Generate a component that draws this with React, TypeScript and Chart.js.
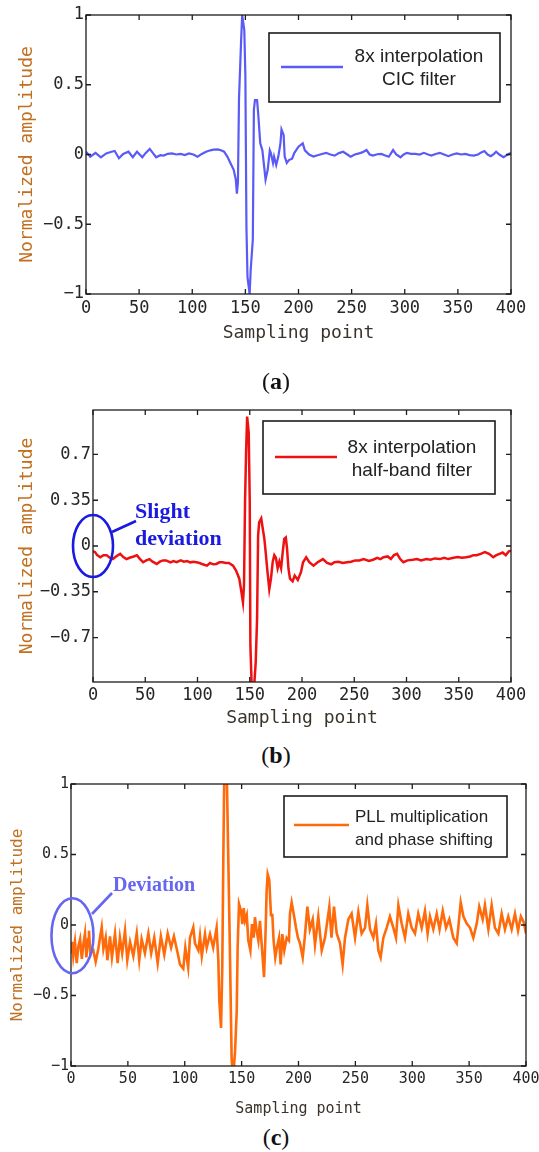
import React, { useEffect, useRef } from "react";
import { Chart, registerables } from "chart.js";

Chart.register(...registerables);

// ---------- shared axis ticks ----------
const sampleTicks = [0, 50, 100, 150, 200, 250, 300, 350, 400];
const ampTicksA = [-1, -0.5, 0, 0.5, 1];
const ampTicksB = [-0.7, -0.35, 0, 0.35, 0.7];
const ampTicksC = [-1, -0.5, 0, 0.5, 1];

// ---------- (a) 8x interpolation CIC filter ----------
const cicX = [0,4,9,14,19,24,27,31,35,40,
  44,48,53,56,60,63,66,70,73,77,
  81,85,89,93,97,101,105,109,113,117,
  120,124,127,130,133,136,139,141,142,143,
  144,146,147,149,150,151,152,154,155,157,
  158,159,161,162,164,166,168,169,171,173,
  174,176,177,179,181,183,184,186,187,189,
  191,194,196,200,204,206,210,214,218,222,
  226,230,234,238,242,246,249,253,257,260,
  264,267,270,274,278,281,285,289,292,296,
  299,302,306,310,314,318,322,325,329,333,
  337,341,345,349,353,357,361,365,369,372,
  375,378,381,384,386,389,393,396,400];
const cicY = [0.02,-0.016,0.012,-0.02,0.008,0.02,0.025,-0.027,0.004,0.02,
  -0.02,0.02,-0.02,0.01,0.04,0.01,-0.02,-0.005,-0.008,0.005,
  0.008,0,0.004,-0.004,0.008,0,-0.016,0.004,0.02,0.03,
  0.035,0.037,0.03,0.02,-0.015,-0.063,-0.11,-0.18,-0.28,-0.2,
  0.4,0.82,1.0,0.89,0.56,-0.52,-0.88,-1.0,-0.83,-0.61,
  0.32,0.39,0.39,0.3,0.08,0.03,-0.11,-0.18,-0.11,0.03,
  0.01,-0.06,-0.015,-0.075,-0.015,0.08,0.18,0.14,-0.015,-0.06,
  -0.04,-0.03,0.01,0.056,0.08,0.03,0,-0.015,-0.005,0.004,
  0.012,0,-0.008,0.01,0.02,0,-0.016,0,0.008,0.015,
  0.032,0,-0.008,0.002,0.004,-0.005,-0.016,0.032,0,-0.02,
  0,0.012,0.005,0.004,0,0.012,0,-0.008,0.004,0.012,
  0,-0.012,0,0.008,0,0.004,-0.004,-0.008,0,0.015,
  0.025,0,-0.012,0.005,0.02,0,-0.02,-0.005,0.012];
const cicLegend = ["8x interpolation", "CIC filter"];

// ---------- (b) 8x interpolation half-band filter ----------
const hbX = [0,2,4,7,10,13,16,19,22,26,
  29,32,35,39,42,45,48,51,54,57,
  61,64,67,70,74,77,80,84,87,90,
  93,96,99,102,105,109,112,115,118,121,
  124,127,130,134,137,140,142,143.5,144.5,145.5,
  146.5,147.5,149,150,150.6,152,154,155.7,157,158,
  159,161,162.5,164,165.5,167,168.7,170.3,172,173.5,
  175,176.7,178.3,180,181.5,183,184.5,185.7,187,188.5,
  191,193,196,199,201,204,207,211,215,218,
  220,224,228,231,235,239,243,247,251,255,
  259,264,268,272,275,278,282,285,288,291,
  294,297,301,306,310,314,319,323,327,332,
  336,340,345,349,353,357,361,364,367,371,
  375,379,383,386,389,392,395,398,400];
const hbY = [-0.04,-0.047,-0.07,-0.086,-0.07,-0.07,-0.09,-0.1,-0.08,-0.06,
  -0.085,-0.1,-0.09,-0.08,-0.07,-0.1,-0.124,-0.11,-0.1,-0.12,
  -0.137,-0.12,-0.11,-0.11,-0.125,-0.115,-0.124,-0.11,-0.12,-0.115,
  -0.125,-0.12,-0.124,-0.13,-0.14,-0.15,-0.13,-0.14,-0.137,-0.125,
  -0.124,-0.13,-0.13,-0.15,-0.19,-0.25,-0.35,-0.43,-0.3,0.34,
  0.72,0.99,0.87,0.34,-0.76,-1.1,-1.1,-0.89,-0.56,0.08,
  0.18,0.21,0.13,0.055,-0.07,-0.2,-0.33,-0.25,-0.12,-0.07,
  -0.09,-0.17,-0.12,-0.17,-0.05,0.055,0.065,-0.02,-0.17,-0.25,
  -0.27,-0.226,-0.26,-0.2,-0.124,-0.086,-0.124,-0.15,-0.124,-0.11,
  -0.1,-0.13,-0.14,-0.124,-0.12,-0.13,-0.124,-0.12,-0.11,-0.11,
  -0.1,-0.115,-0.105,-0.09,-0.1,-0.086,-0.08,-0.1,-0.07,-0.06,
  -0.1,-0.124,-0.11,-0.105,-0.1,-0.11,-0.1,-0.105,-0.095,-0.1,
  -0.09,-0.1,-0.09,-0.085,-0.09,-0.086,-0.08,-0.07,-0.07,-0.06,
  -0.047,-0.06,-0.086,-0.07,-0.06,-0.05,-0.07,-0.04,-0.035];
const hbLegend = ["8x interpolation", "half-band filter"];

// ---------- (c) PLL multiplication and phase shifting ----------
const pllX = [0,1,2,3.5,5,6.5,8,9.5,11,12.3,
  13.5,15,15.8,17,19.6,21.7,24,25.5,27,28.5,
  30.5,32,34.3,36,38.7,41,43,45,47.5,49.5,
  51.9,54.8,57.8,60,62.1,65,68,70.5,73.2,76.2,
  79,82,85,88,90.5,93.8,95.8,98.7,100.5,103,
  104.6,107.5,109,112,113.4,115,117.8,119.3,122.2,125,
  128,129.5,130.4,131.9,133,133.9,134.8,136.9,138.3,139.8,
  141.2,142.4,144.2,145.7,146.5,147.7,149.5,150.6,151.8,153,
  154.5,155.9,157.7,159.1,160.6,161.7,163.2,164.7,166.1,168.2,
  169.7,170.9,172,172.9,174.3,175.8,177,178.1,179.6,181,
  182.9,184.3,185.8,187.5,189.6,191.6,192.5,194,196.3,197.8,
  199.5,201.3,203.7,205.5,207.8,210,212.5,214.5,217.4,220.4,
  223.3,227.1,229,231.2,233.6,236.5,238.8,240.9,243.8,246.7,
  249.7,252.6,255.5,258.5,260.5,262.9,265.8,268.1,270.2,272.2,
  274.6,277.5,280.4,283.4,285.7,287.8,290.7,293.6,296.5,299.5,
  302.4,305.3,308.3,311.2,313.5,315.6,318.5,321.5,324,326.8,
  329.7,332.6,336.1,339.1,342.6,345,347.9,350.8,353.7,356.7,
  358.9,361.9,363.9,366.9,369.8,372.7,375.7,378.6,381.5,384.4,
  387.4,390.3,393,395.5,398,400];
const pllY = [-0.2,-0.12,-0.22,-0.12,-0.27,-0.15,-0.1,-0.24,-0.13,-0.06,
  -0.23,-0.1,-0.04,-0.2,-0.18,-0.26,-0.17,-0.09,-0.016,-0.17,
  -0.09,-0.25,-0.08,-0.23,-0.06,-0.27,-0.09,-0.2,-0.04,-0.25,
  -0.12,-0.22,-0.06,-0.25,-0.1,-0.2,-0.06,-0.2,-0.09,-0.27,
  -0.08,-0.21,-0.06,-0.16,-0.08,-0.2,-0.28,-0.31,-0.16,-0.3,
  -0.09,-0.016,-0.13,-0.18,-0.08,-0.22,-0.065,-0.16,-0.065,-0.16,
  -0.02,-0.25,-0.54,-0.73,-0.3,0.46,1.1,1.1,0.46,-0.23,
  -0.94,-1.1,-0.9,-0.61,-0.16,0.15,0.1,0.006,0.12,0.03,
  0.07,-0.11,-0.18,0.006,-0.09,0.055,-0.04,-0.11,0.03,-0.2,
  -0.37,-0.09,0.245,0.36,0.32,0.07,0.07,-0.11,-0.23,-0.16,
  -0.09,-0.28,-0.065,-0.18,-0.09,-0.11,0.08,0.16,0.055,-0.02,
  -0.09,-0.13,-0.23,-0.09,0.13,-0.03,0.04,-0.14,0.06,-0.18,
  -0.09,0.13,-0.09,0.13,-0.06,-0.13,-0.28,-0.09,0.04,0.08,
  -0.09,0.09,-0.06,-0.02,0.14,-0.03,-0.09,0.01,-0.18,-0.23,
  -0.09,-0.02,0.06,-0.02,-0.09,0.14,0.01,-0.09,0.08,-0.02,
  -0.06,0.08,-0.02,0.1,-0.06,0.06,-0.03,0.08,-0.03,0.1,
  -0.02,0.04,-0.09,-0.13,0.16,0.06,0.01,-0.02,-0.09,0.01,
  0.13,0.04,0.14,-0.03,0.14,-0.02,-0.06,0.08,-0.03,0.06,
  -0.03,0.08,-0.04,0.06,0.02,-0.06];
const pllLegend = ["PLL multiplication", "and phase shifting"];

const xTitle = "Sampling point";
const yTitle = "Normalized amplitude";

const MONO = "'DejaVu Sans Mono', monospace";
const SANS = "'Liberation Sans', Arial, sans-serif";
const SERIF = "'Liberation Serif', 'Times New Roman', serif";

type Note = {
  cx: number; cy: number; rx: number; ry: number; // cx, cy in data units
  l0: [number, number]; l1: [number, number];
  lines: string[]; tx: number; tys: number[]; size: number; color: string;
};

type Panel = {
  top: number; height: number;
  padTop: number; padRight: number; yWidth: number; xHeight: number;
  xs: number[]; ys: number[]; yTicks: number[]; yMin: number; yMax: number;
  color: string; lw: number;
  tickSize: number; xTitleSize: number; yTitleSize: number;
  yTickPad: number; xTickPad: number; yTitlePad: number; xTitlePad: number;
  legendText: string[];
  legend: { x0: number; y0: number; x1: number; y1: number; lx0: number; lx1: number; ly: number; tx: number; tys: number[]; align: CanvasTextAlign; size: number };
  note?: Note;
};

const panels: Panel[] = [
  {
    top: 0, height: 346, padTop: 15, padRight: 28, yWidth: 86, xHeight: 52,
    xs: cicX, ys: cicY, yTicks: ampTicksA, yMin: -1, yMax: 1,
    color: "#5a5af6", lw: 2.2,
    tickSize: 17, xTitleSize: 18, yTitleSize: 18,
    yTickPad: 2, xTickPad: 4, yTitlePad: 16.7, xTitlePad: 2,
    legendText: cicLegend,
    legend: { x0: 269, y0: 33, x1: 500, y1: 102, lx0: 281, lx1: 343, ly: 67, tx: 419, tys: [57, 80], align: "center", size: 19 },
  },
  {
    top: 380, height: 351, padTop: 30, padRight: 28, yWidth: 93, xHeight: 49,
    xs: hbX, ys: hbY, yTicks: ampTicksB, yMin: -1.04, yMax: 1.04,
    color: "#ee1111", lw: 2.5,
    tickSize: 17, xTitleSize: 18, yTitleSize: 18,
    yTickPad: 2, xTickPad: 3, yTitlePad: 16.7, xTitlePad: 2,
    legendText: hbLegend,
    legend: { x0: 263, y0: 41, x1: 495, y1: 114, lx0: 275, lx1: 337, ly: 77, tx: 412, tys: [68, 91], align: "center", size: 19 },
    note: {
      cx: 0, cy: 0, rx: 20, ry: 31, l0: [112, 152], l1: [136, 141],
      lines: ["Slight", "deviation"], tx: 135, tys: [138, 165], size: 22, color: "#1a1ae0",
    },
  },
  {
    top: 770, height: 350, padTop: 14, padRight: 13, yWidth: 71, xHeight: 54,
    xs: pllX, ys: pllY, yTicks: ampTicksC, yMin: -1, yMax: 1,
    color: "#ff6a0a", lw: 2.6,
    tickSize: 15, xTitleSize: 15, yTitleSize: 16,
    yTickPad: 2, xTickPad: 4, yTitlePad: 8.5, xTitlePad: 2,
    legendText: pllLegend,
    legend: { x0: 284, y0: 26, x1: 507, y1: 87, lx0: 294, lx1: 349, ly: 55, tx: 355, tys: [47, 70], align: "left", size: 17 },
    note: {
      cx: 1.3, cy: -0.076, rx: 21, ry: 37.5, l0: [92, 144], l1: [112, 123],
      lines: ["Deviation"], tx: 113, tys: [121], size: 20, color: "#6666f0",
    },
  },
];

const fmt = (v: number) => (v < 0 ? "\u2212" + String(Math.abs(v)) : String(v));

function PanelChart({ p }: { p: Panel }) {
  const ref = useRef<HTMLCanvasElement>(null);
  useEffect(() => {
    const canvas = ref.current;
    if (!canvas) return;
    const frame = {
      id: "frame" + p.top,
      afterDatasetsDraw(chart: any) {
        const { ctx, chartArea } = chart;
        const { left, right, top, bottom } = chartArea;
        const xs = chart.scales.x, ys = chart.scales.y;
        ctx.save();
        ctx.strokeStyle = "#1c1c1c";
        ctx.lineWidth = 1.3;
        ctx.strokeRect(left, top, right - left, bottom - top);
        ctx.beginPath();
        for (const v of sampleTicks) {
          const px = xs.getPixelForValue(v);
          ctx.moveTo(px, bottom); ctx.lineTo(px, bottom - 5);
          ctx.moveTo(px, top); ctx.lineTo(px, top + 5);
        }
        for (const v of p.yTicks) {
          const py = ys.getPixelForValue(v);
          ctx.moveTo(left, py); ctx.lineTo(left + 5, py);
          ctx.moveTo(right, py); ctx.lineTo(right - 5, py);
        }
        ctx.stroke();
        // legend box
        const L = p.legend;
        ctx.fillStyle = "#ffffff";
        ctx.fillRect(L.x0, L.y0, L.x1 - L.x0, L.y1 - L.y0);
        ctx.lineWidth = 1.6;
        ctx.strokeStyle = "#1c1c1c";
        ctx.strokeRect(L.x0, L.y0, L.x1 - L.x0, L.y1 - L.y0);
        ctx.strokeStyle = p.color;
        ctx.lineWidth = 2.6;
        ctx.beginPath();
        ctx.moveTo(L.lx0, L.ly); ctx.lineTo(L.lx1, L.ly);
        ctx.stroke();
        ctx.fillStyle = "#222222";
        ctx.font = `${L.size}px ${SANS}`;
        ctx.textAlign = L.align;
        ctx.textBaseline = "middle";
        p.legendText.forEach((t, i) => ctx.fillText(t, L.tx, L.tys[i]));
        ctx.restore();
      },
      afterDraw(chart: any) {
        const n = p.note;
        if (!n) return;
        const { ctx } = chart;
        const cx = chart.scales.x.getPixelForValue(n.cx);
        const cy = chart.scales.y.getPixelForValue(n.cy);
        ctx.save();
        ctx.strokeStyle = n.color;
        ctx.lineWidth = 2.6;
        ctx.beginPath();
        ctx.ellipse(cx, cy, n.rx, n.ry, 0, 0, Math.PI * 2);
        ctx.stroke();
        ctx.beginPath();
        ctx.moveTo(n.l0[0], n.l0[1]);
        ctx.lineTo(n.l1[0], n.l1[1]);
        ctx.stroke();
        ctx.fillStyle = n.color;
        ctx.font = `bold ${n.size}px ${SERIF}`;
        ctx.textAlign = "left";
        ctx.textBaseline = "alphabetic";
        n.lines.forEach((t, i) => ctx.fillText(t, n.tx, n.tys[i]));
        ctx.restore();
      },
    };

    const chart = new Chart(canvas, {
      type: "line",
      data: {
        datasets: [
          {
            label: p.legendText.join(" "),
            data: p.xs.map((x, i) => ({ x, y: p.ys[i] })),
            borderColor: p.color,
            borderWidth: p.lw,
            pointRadius: 0,
            fill: false,
            tension: 0,
            clip: 0,
          } as any,
        ],
      },
      options: {
        animation: false,
        responsive: false,
        maintainAspectRatio: false,
        devicePixelRatio: 1,
        layout: { padding: { top: p.padTop, right: p.padRight, left: 0, bottom: 0 } },
        plugins: { legend: { display: false }, tooltip: { enabled: false } },
        scales: {
          x: {
            type: "linear",
            min: 0,
            max: 400,
            afterBuildTicks: (s: any) => { s.ticks = sampleTicks.map((v) => ({ value: v })); },
            afterFit: (s: any) => { s.height = p.xHeight; s.paddingLeft = 0; s.paddingRight = 0; },
            grid: { display: false, drawTicks: false },
            border: { display: false },
            ticks: {
              autoSkip: false, maxRotation: 0, padding: p.xTickPad, color: "#262626",
              font: { family: MONO, size: p.tickSize },
              callback: (v: any) => String(v),
            },
            title: {
              display: true, text: xTitle, color: "#3a342c",
              font: { family: MONO, size: p.xTitleSize },
              padding: { top: 0, bottom: p.xTitlePad },
            },
          },
          y: {
            type: "linear",
            min: p.yMin,
            max: p.yMax,
            afterBuildTicks: (s: any) => { s.ticks = p.yTicks.map((v) => ({ value: v })); },
            afterFit: (s: any) => { s.width = p.yWidth; s.paddingTop = 0; s.paddingBottom = 0; },
            grid: { display: false, drawTicks: false },
            border: { display: false },
            ticks: {
              autoSkip: false, padding: p.yTickPad, color: "#262626",
              font: { family: MONO, size: p.tickSize },
              callback: (v: any) => fmt(Number(v)),
            },
            title: {
              display: true, text: yTitle, color: "#c07020",
              font: { family: MONO, size: p.yTitleSize },
              padding: { top: p.yTitlePad, bottom: 0 },
            },
          },
        },
      } as any,
      plugins: [frame],
    });
    return () => chart.destroy();
  }, []);
  return (
    <canvas
      ref={ref}
      width={539}
      height={p.height}
      style={{ position: "absolute", left: 0, top: p.top, width: 539, height: p.height, display: "block" }}
    />
  );
}

const captions = [
  { letter: "a", y: 381 },
  { letter: "b", y: 755 },
  { letter: "c", y: 1137 },
];

export default function App() {
  return (
    <div style={{ position: "absolute", left: 0, top: 0, width: 539, height: 1152, background: "#ffffff", overflow: "hidden" }}>
      {panels.map((p, i) => (
        <PanelChart key={i} p={p} />
      ))}
      {captions.map((c) => (
        <div
          key={c.letter}
          style={{
            position: "absolute", left: 276, top: c.y - 14, transform: "translateX(-50%)",
            fontFamily: SERIF, fontSize: 24, lineHeight: "28px", color: "#111", whiteSpace: "nowrap",
          }}
        >
          (<b>{c.letter}</b>)
        </div>
      ))}
    </div>
  );
}
